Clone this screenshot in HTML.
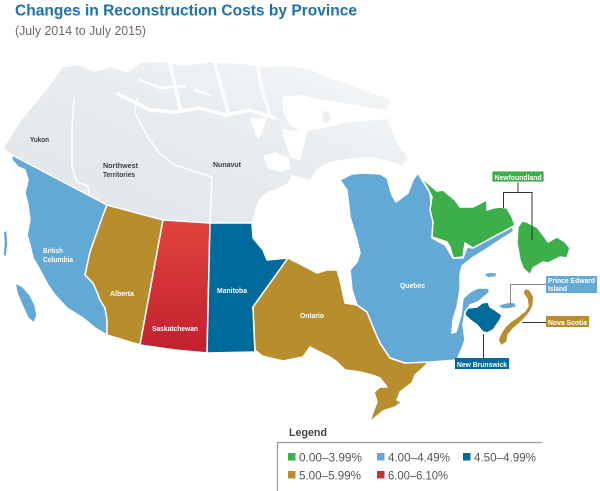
<!DOCTYPE html>
<html><head><meta charset="utf-8"><style>
html,body{margin:0;padding:0;background:#fff;}
svg{display:block;}
text{font-family:"Liberation Sans",Arial,sans-serif;}
</style></head><body>
<svg width="600" height="491" viewBox="0 0 600 491" xmlns="http://www.w3.org/2000/svg">
<defs>
<linearGradient id="gr" x1="0" y1="1" x2="1" y2="0">
<stop offset="0" stop-color="#e0e5e8"/>
<stop offset="0.55" stop-color="#e8ecef"/>
<stop offset="1" stop-color="#f7f9fa"/>
</linearGradient>
<linearGradient id="rd" x1="0" y1="0" x2="0" y2="1">
<stop offset="0" stop-color="#e2433d"/>
<stop offset="1" stop-color="#c21f2f"/>
</linearGradient>
</defs>
<rect width="600" height="491" fill="#fff"/>

<text x="15" y="15.5" font-size="15.5" font-weight="bold" fill="#1a72b5" textLength="342" lengthAdjust="spacingAndGlyphs">Changes in Reconstruction Costs by Province</text>
<text x="15" y="35" font-size="12.5" fill="#6b6b6b" textLength="131" lengthAdjust="spacingAndGlyphs">(July 2014 to July 2015)</text>

<!-- Northern territories -->
<polygon fill="url(#gr)" points="4,148 20,122 40,98 55,78 62,68 78,65 95,72 110,67 128,73 140,63 160,62 185,66 210,62 240,64 265,67 290,66 310,70 330,78 350,85 370,92 390,100 386,115 392,130 398,145 408,158 402,165 385,160 370,157 355,158 340,160 330,162 318,168 310,180 300,177 292,175 288,183 278,188 268,192 260,198 255,210 252,223 210,223 163,220 107,205 12,155"/>
<!-- water -->
<polygon fill="#fff" points="283,97 300,95 320,100 345,103 370,108 390,110 387,119 365,121 345,123 332,126 320,129 305,131 290,126 283,112"/>
<polygon fill="#edf0f2" points="322,112 328,111 331,118 328,124 323,122"/>
<polygon fill="#fff" points="250,117 258,119 267,117 263,130 258,140 254,130"/>
<polygon fill="#fff" points="282,129 295,131 307,129 304,145 300,160 291,158 286,145"/>
<polygon fill="#fff" points="263,156 275,152 289,158 291,169 280,172 268,168"/>
<g stroke="#fff" fill="none" stroke-linejoin="round" stroke-linecap="round">
<path d="M118,94 L150,110 L175,112 L200,108 L225,115 L250,110 L275,118" stroke-width="3.5"/>
<path d="M170,64 L175,85 L180,108" stroke-width="3"/>
<path d="M215,63 L222,90 L228,112" stroke-width="3"/>
<path d="M258,67 L262,90 L270,115" stroke-width="3"/>
<path d="M140,80 L160,88 L185,86" stroke-width="2.5"/>
<path d="M195,90 L210,95" stroke-width="2.5"/>
</g>
<!-- territory borders -->
<g stroke="#fff" stroke-width="1.5" fill="none" stroke-linejoin="round">
<path d="M74,100 L73,110 L72,130 L72,167 L77,182 L88,186 L90,198"/>
<path d="M137,98 L135,113 L147,136 L160,154 L175,165 L212,177 L210,223"/>
</g>

<g stroke="#fff" stroke-width="1.5" stroke-linejoin="round">
<!-- British Columbia -->
<polygon fill="#62a9d5" points="12,155 107,205 102,218 96,235 90,252 85,275 93,283 97,292 100,300 105,308 107,320 107,335 95,328 83,318 67,308 55,295 48,285 40,270 33,258 30,245 27,235 30,220 28,205 25,193 28,180 25,170 18,167 12,160"/>
<polygon fill="#62a9d5" points="15,283 22,286 30,295 35,305 37,315 34,323 28,318 22,305 17,293"/>
<polygon fill="#62a9d5" points="3,232 7,230 8,245 6,258 3,255 4,242"/>
<!-- Alberta -->
<polygon fill="#b78d2e" points="107,205 163,220 140,345 107,335 107,320 105,308 100,300 97,292 93,283 85,275 90,252 96,235 102,218"/>
<!-- Saskatchewan -->
<polygon fill="url(#rd)" points="163,220 210,223 207,353 175,350 140,345"/>
<!-- Manitoba -->
<polygon fill="#006a9d" points="210,223 252,223 253,238 263,250 267,260 288,258 253,307 255,352 207,353"/>
<!-- Ontario -->
<polygon fill="#b78d2e" points="288,258 298,263 317,273 327,270 337,270 340,280 345,303 357,305 367,312 373,327 380,343 390,358 405,363 417,360 430,360 425,366 415,375 412,383 400,392 397,400 402,402 395,407 383,411 370,422 373,412 377,402 374,392 380,387 387,387 380,378 372,375 360,372 345,370 337,362 330,357 320,352 310,347 303,357 283,361 270,358 262,356 255,350 253,307"/>
<!-- Quebec -->
<polygon fill="#62a9d5" points="340,180 352,174 363,173 380,174 387,178 392,195 396,202 408,193 413,180 418,173 430,193 433,222 432,238 445,245 453,258 463,258 467,247 473,248 487,240 512,227 514,231 500,240 485,250 472,258 462,266 460,275 460,290 457,307 453,320 452,333 456,332 461,315 463,298 470,292 478,288 488,288 490,292 484,297 478,302 470,305 465,312 463,325 465,340 462,348 457,360 430,362 405,363 390,358 380,343 373,327 367,312 357,305 352,290 350,270 357,262 360,253 357,240 350,217 347,190"/>
<polygon fill="#62a9d5" points="483,274 490,272 497,273 496,277 488,278"/>
<!-- Labrador -->
<polygon fill="#3daf4a" points="418,173 424,180 437,191 443,190 455,200 460,207 473,207 487,200 487,210 493,208 500,207 507,208 512,217 515,225 510,228 473,248 465,243 463,257 453,258 450,247 447,242 432,237 433,222 430,210 432,197 427,187 422,180"/>
<!-- Newfoundland island -->
<polygon fill="#3daf4a" points="522,221 518,227 517,243 520,260 523,268 530,275 533,268 543,262 548,263 560,257 567,258 570,248 565,242 557,237 548,242 543,235 537,227 532,225 527,222"/>
<!-- New Brunswick -->
<polygon fill="#006a9d" points="465,312 468,308 477,307 482,303 488,302 490,307 495,310 502,315 500,320 493,330 487,333 483,332 477,325 470,320 465,315"/>
<!-- PEI -->
<polygon fill="#62a9d5" points="498,305 505,303 512,302 515,303 517,307 513,308 508,309 502,309"/>
<!-- Nova Scotia -->
<polygon fill="#b78d2e" points="501,346 498,340 501,333 505,327 510,322 516,318 521,314 525,311 528,306 527,299 523,293 525,288 530,290 534,297 533,306 530,312 525,318 519,324 513,329 508,335 507,342"/>
</g>

<!-- map labels -->
<g font-size="7.5" font-weight="bold" fill="#3d3d3d">
<text x="30" y="142" textLength="19" lengthAdjust="spacingAndGlyphs">Yukon</text>
<text x="103" y="168" textLength="35" lengthAdjust="spacingAndGlyphs">Northwest</text>
<text x="103" y="177" textLength="32" lengthAdjust="spacingAndGlyphs">Territories</text>
<text x="213" y="167" textLength="28" lengthAdjust="spacingAndGlyphs">Nunavut</text>
</g>
<g font-size="7.5" font-weight="bold" fill="#fff">
<text x="43" y="253" textLength="20" lengthAdjust="spacingAndGlyphs">British</text>
<text x="43" y="262" textLength="30" lengthAdjust="spacingAndGlyphs">Columbia</text>
<text x="110" y="296" textLength="24" lengthAdjust="spacingAndGlyphs">Alberta</text>
<text x="152" y="331" textLength="46" lengthAdjust="spacingAndGlyphs">Saskatchewan</text>
<text x="217" y="293" textLength="30" lengthAdjust="spacingAndGlyphs">Manitoba</text>
<text x="300" y="318" textLength="24" lengthAdjust="spacingAndGlyphs">Ontario</text>
<text x="400" y="288" textLength="25" lengthAdjust="spacingAndGlyphs">Quebec</text>
</g>

<!-- leaders -->
<g fill="none" stroke-width="1">
<path d="M518,182 V192.5 M503.5,208 V192.5 H532 V240" stroke="#333"/>
<path d="M546,284.5 H510.5 V307" stroke="#888"/>
<path d="M522,322.5 H546" stroke="#333"/>
<path d="M483.5,334 V358" stroke="#333"/>
</g>

<!-- label boxes -->
<rect x="492" y="171" width="52" height="11" fill="#3daf4a" stroke="#fff" stroke-width="0.8"/>
<rect x="546" y="276" width="51" height="17" fill="#62a9d5"/>
<rect x="546" y="316" width="43" height="11" fill="#b78d2e"/>
<rect x="455" y="358" width="54" height="11" fill="#006a9d"/>
<g font-size="7.5" font-weight="bold" fill="#fff">
<text x="494.5" y="179.8" textLength="47" lengthAdjust="spacingAndGlyphs">Newfoundland</text>
<text x="548" y="283" textLength="47" lengthAdjust="spacingAndGlyphs">Prince Edward</text>
<text x="548" y="291" textLength="19" lengthAdjust="spacingAndGlyphs">Island</text>
<text x="548" y="324.8" textLength="39" lengthAdjust="spacingAndGlyphs">Nova Scotia</text>
<text x="457" y="366.8" textLength="50" lengthAdjust="spacingAndGlyphs">New Brunswick</text>
</g>

<!-- legend -->
<text x="289" y="436" font-size="11" font-weight="bold" fill="#444" textLength="38" lengthAdjust="spacingAndGlyphs">Legend</text>
<path d="M277.5,491 V442.5 H542" stroke="#9a9a9a" fill="none" stroke-width="1.2"/>
<rect x="288" y="453" width="7.5" height="7.5" fill="#3daf4a"/>
<rect x="377" y="453" width="7.5" height="7.5" fill="#62a9d5"/>
<rect x="463" y="453" width="7.5" height="7.5" fill="#006a9d"/>
<rect x="288" y="471" width="7.5" height="7.5" fill="#b78d2e"/>
<rect x="377" y="471" width="7.5" height="7.5" fill="#cc2b33"/>
<g font-size="12" fill="#555">
<text x="299" y="461.3" textLength="63" lengthAdjust="spacingAndGlyphs">0.00–3.99%</text>
<text x="388" y="461.3" textLength="62" lengthAdjust="spacingAndGlyphs">4.00–4.49%</text>
<text x="474" y="461.3" textLength="62" lengthAdjust="spacingAndGlyphs">4.50–4.99%</text>
<text x="299" y="479.5" textLength="62" lengthAdjust="spacingAndGlyphs">5.00–5.99%</text>
<text x="388" y="479.5" textLength="60" lengthAdjust="spacingAndGlyphs">6.00–6.10%</text>
</g>
</svg>
</body></html>
